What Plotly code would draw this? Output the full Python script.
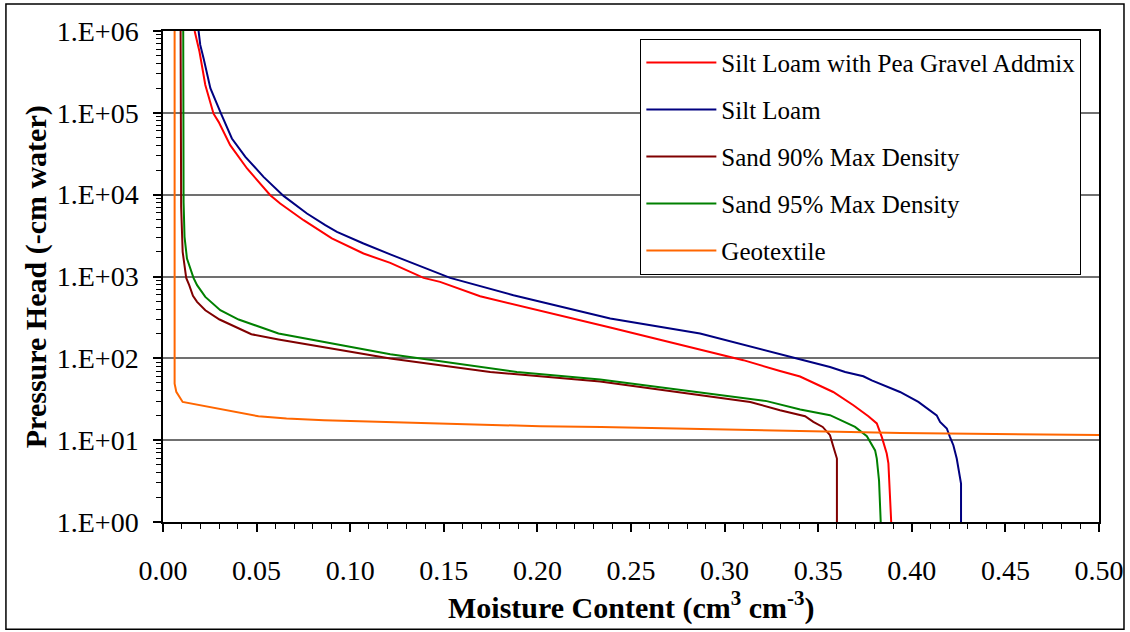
import plotly.graph_objects as go

# Water retention curves: moisture content (cm3/cm3) vs pressure head (-cm water)
series_names = [
    "Silt Loam with Pea Gravel Addmix",
    "Silt Loam",
    "Sand 90% Max Density",
    "Sand 95% Max Density",
    "Geotextile",
]
series_colors = ["#FF0000", "#000080", "#800000", "#008000", "#FF6600"]

pea_gravel_theta = [0.0169, 0.0195, 0.0226, 0.0270, 0.0297, 0.0359, 0.0449, 0.0573, 0.0626,
                    0.0751, 0.0902, 0.1071, 0.1214, 0.1392, 0.1480, 0.1694, 0.2389, 0.3100,
                    0.3296, 0.3403, 0.3580, 0.3688, 0.3768, 0.3813, 0.3840, 0.3866, 0.3875,
                    0.3890]
pea_gravel_head = [1.0e6, 5.57e5, 2.19e5, 9.77e4, 7.76e4, 4.03e4, 2.09e4, 9860, 7800,
                   4875, 2917, 1910, 1466, 962, 859, 574, 238, 95,
                   70, 60, 38.8, 26.7, 19.6, 16.0, 10.9, 6.86, 5.2,
                   1.0]

silt_loam_theta = [0.0190, 0.0199, 0.0217, 0.0253, 0.0310, 0.0350, 0.0368, 0.0440, 0.0537,
                   0.0644, 0.0769, 0.0867, 0.0929, 0.1071, 0.1214, 0.1534, 0.1872, 0.2389,
                   0.2869, 0.3386, 0.3563, 0.3644, 0.3741, 0.3786, 0.3937, 0.4035, 0.4133,
                   0.4151, 0.4187, 0.4204, 0.4222, 0.4240, 0.4254, 0.4263, 0.4263]
silt_loam_head = [1.0e6, 6.76e5, 4.62e5, 2.0e5, 9.77e4, 5.89e4, 4.86e4, 2.90e4, 1.65e4,
                  9660, 5890, 4240, 3510, 2530, 1860, 962, 590, 307,
                  201, 99.5, 78.5, 68.2, 60.4, 53.7, 38.8, 29.3, 20.1,
                  16.7, 13.9, 10.9, 8.67, 5.96, 3.91, 2.94, 1.0]

sand90_theta = [0.0094, 0.0097, 0.0105, 0.0124, 0.0140, 0.0160, 0.0182, 0.0226, 0.0302,
                0.0472, 0.0617, 0.1214, 0.1748, 0.2335, 0.3137, 0.3296, 0.3430, 0.3474,
                0.3524, 0.3563, 0.3581, 0.3600, 0.3600]
sand90_head = [1.0e6, 7000, 2000, 960, 784, 580, 490, 387, 298,
               197, 170, 99.5, 68.2, 52, 29.3, 23.2, 19.6, 16.7,
               14.5, 11.5, 8.3, 5.96, 1.0]

sand95_theta = [0.0108, 0.0110, 0.0115, 0.0128, 0.0163, 0.0182, 0.0226, 0.0306, 0.0404,
                0.0617, 0.1214, 0.1890, 0.2335, 0.3225, 0.3404, 0.3563, 0.3697, 0.3760,
                0.3804, 0.3813, 0.3825, 0.3834]
sand95_head = [1.0e6, 8000, 3050, 1660, 962, 783, 563, 387, 298,
               201, 112, 68.2, 55, 30, 23.7, 20.2, 14.5, 11.2,
               7.5, 5.96, 3.2, 1.0]

geotextile_theta = [0.0062, 0.0062, 0.0062, 0.0071, 0.0105, 0.0510, 0.0660, 0.0860, 0.1120,
                    0.1270, 0.2015, 0.2340, 0.3400, 0.3940, 0.5000]
geotextile_head = [1.0e6, 100, 49, 39, 29.3, 19.6, 18.4, 17.5, 16.9,
                   16.4, 14.8, 14.5, 12.8, 12.2, 11.6]

series_theta = [pea_gravel_theta, silt_loam_theta, sand90_theta, sand95_theta, geotextile_theta]
series_head = [pea_gravel_head, silt_loam_head, sand90_head, sand95_head, geotextile_head]

y_tick_vals = [1, 10, 100, 1000, 10000, 100000, 1000000]
y_tick_text = ["1.E+00", "1.E+01", "1.E+02", "1.E+03", "1.E+04", "1.E+05", "1.E+06"]
y_minor_vals = [k * 10 ** n for n in range(6) for k in range(2, 10)]

FONT = "Liberation Serif"
TICK_FONT = dict(family=FONT, size=28, color="black")

fig = go.Figure()
for i, name in enumerate(series_names):
    fig.add_trace(go.Scatter(
        x=series_theta[i], y=series_head[i], mode="lines", name=name,
        legendgroup=name,
        line=dict(color=series_colors[i], width=2),
    ))

fig.update_layout(
    width=1130, height=632,
    margin=dict(l=163, r=31, t=31, b=110, autoexpand=False),
    paper_bgcolor="white", plot_bgcolor="white",
    font=dict(family=FONT, size=28, color="black"),
    showlegend=True,
    legend=dict(
        x=0.51, y=0.984, xanchor="left", yanchor="top",
        bgcolor="white", bordercolor="black", borderwidth=1,
        font=dict(family=FONT, size=25, color="black"),
        tracegroupgap=11.5,
        itemwidth=70,
    ),
    xaxis=dict(
        range=[0, 0.5], dtick=0.05, tick0=0, tickformat=".2f",
        tickfont=TICK_FONT,
        ticks="outside", ticklen=8, tickwidth=1.5, tickcolor="black",
        showline=True, linecolor="black", linewidth=1.5, mirror=True,
        showgrid=False, zeroline=False, automargin=False,
        ticklabelstandoff=15,
        minor=dict(dtick=0.01, ticks="outside", ticklen=5, tickwidth=1, tickcolor="black",
                   showgrid=False),
    ),
    yaxis=dict(
        type="log", range=[0, 6],
        tickmode="array", tickvals=y_tick_vals, ticktext=y_tick_text,
        tickfont=TICK_FONT,
        ticks="outside", ticklen=8, tickwidth=1.5, tickcolor="black",
        showline=True, linecolor="black", linewidth=1.5, mirror=True,
        showgrid=True, gridcolor="#707070", gridwidth=1.5,
        zeroline=False, automargin=False,
        ticklabelstandoff=9,
        minor=dict(tickmode="array", tickvals=y_minor_vals, ticks="outside", ticklen=5,
                   tickwidth=1, tickcolor="black", showgrid=False),
    ),
    annotations=[
        dict(text="<b>Pressure Head (-cm water)</b>", textangle=-90,
             xref="paper", yref="paper", x=-0.136, y=0.5,
             xanchor="center", yanchor="middle", showarrow=False,
             font=dict(family=FONT, size=30, color="black")),
        dict(text="<b>Moisture Content (cm<sup>3</sup> cm<sup>-3</sup>)</b>",
             xref="paper", yref="paper", x=0.5, y=-0.170,
             xanchor="center", yanchor="middle", showarrow=False,
             font=dict(family=FONT, size=30, color="black")),
    ],
    shapes=[
        # outer chart frame
        dict(type="rect", xref="paper", yref="paper",
             x0=-0.1678, x1=1.0267, y0=-0.2185, y1=1.055,
             line=dict(color="black", width=1.5), fillcolor="rgba(0,0,0,0)", layer="below"),
    ],
)

fig.write_html("out.html")
